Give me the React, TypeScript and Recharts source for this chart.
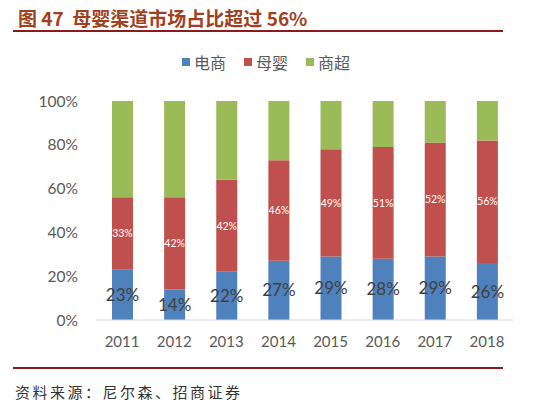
import { Bar, BarChart, LabelList, XAxis, YAxis } from "recharts";

const years = ["2011", "2012", "2013", "2014", "2015", "2016", "2017", "2018"];
const dianshang = [23, 14, 22, 27, 29, 28, 29, 26];
const muying = [33, 42, 42, 46, 49, 51, 52, 56];
const shangchao = [44, 44, 36, 27, 22, 21, 19, 18];
const yTicks = [0, 20, 40, 60, 80, 100];

const data = years.map((year, i) => ({
  year,
  电商: dianshang[i],
  母婴: muying[i],
  商超: shangchao[i],
}));

const legendItems = [
  { name: "电商", color: "#4f81bd" },
  { name: "母婴", color: "#c0504d" },
  { name: "商超", color: "#9bbb59" },
];

const font = "Lato, 'Noto Sans CJK SC', sans-serif";

export default function App() {
  return (
    <div style={{ position: "absolute", left: 0, top: 0, width: 554, height: 416, background: "#fff", fontFamily: font }}>
      <div
        style={{
          position: "absolute",
          left: 18,
          top: 6,
          fontSize: 19,
          fontWeight: 700,
          color: "#a0401e",
          fontFamily: "'Noto Sans CJK SC', sans-serif",
          lineHeight: "24px",
          whiteSpace: "nowrap",
        }}
      >
        图 47&nbsp; 母婴渠道市场占比超过 56%
      </div>
      <div style={{ position: "absolute", left: 13, top: 30, width: 490, height: 2, background: "#8b1a1a" }} />

      {/* legend */}
      <div
        style={{
          position: "absolute",
          left: 182,
          top: 51,
          display: "flex",
          gap: 18,
          fontFamily: "'Noto Sans CJK SC', sans-serif",
        }}
      >
        {legendItems.map((it) => (
          <div key={it.name} style={{ display: "flex", alignItems: "center", gap: 4, color: "#595959", fontSize: 16, lineHeight: "22px" }}>
            <span style={{ width: 8, height: 8, background: it.color, display: "inline-block" }} />
            {it.name}
          </div>
        ))}
      </div>

      <div style={{ position: "absolute", left: 0, top: 0 }}>
        <BarChart
          width={554}
          height={416}
          data={data}
          margin={{ top: 101, right: 41, bottom: 66, left: 0 }}
          barSize={21}
        >
          <XAxis
            dataKey="year"
            height={30}
            axisLine={{ stroke: "#d9d9d9" }}
            tickLine={false}
            tickSize={0}
            tickMargin={16}
            tick={{ fill: "#595959", fontSize: 15, fontFamily: font }}
          />
          <YAxis
            width={96}
            domain={[0, 100]}
            ticks={yTicks}
            tickFormatter={(v) => `${v}%`}
            axisLine={false}
            tickLine={false}
            tickSize={0}
            tickMargin={18}
            tick={{ fill: "#595959", fontSize: 15.5, fontFamily: font }}
          />
          <Bar dataKey="电商" stackId="a" fill="#4f81bd" isAnimationActive={false}>
            <LabelList dataKey="电商" position="center" formatter={(v) => `${v}%`} fill="#404040" fontSize={17} fontFamily={font} />
          </Bar>
          <Bar dataKey="母婴" stackId="a" fill="#c0504d" isAnimationActive={false}>
            <LabelList dataKey="母婴" position="center" formatter={(v) => `${v}%`} fill="#ffffff" fontSize={10.5} fontFamily={font} />
          </Bar>
          <Bar dataKey="商超" stackId="a" fill="#9bbb59" isAnimationActive={false} />
        </BarChart>
      </div>

      <div style={{ position: "absolute", left: 13, top: 367, width: 490, height: 2, background: "#8b1a1a" }} />
      <div
        style={{
          position: "absolute",
          left: 15,
          top: 381,
          fontSize: 15,
          color: "#333",
          fontFamily: "'Noto Sans CJK SC', serif",
          whiteSpace: "nowrap",
          letterSpacing: 2.5,
        }}
      >
        资料来源：尼尔森、招商证券
      </div>
    </div>
  );
}
